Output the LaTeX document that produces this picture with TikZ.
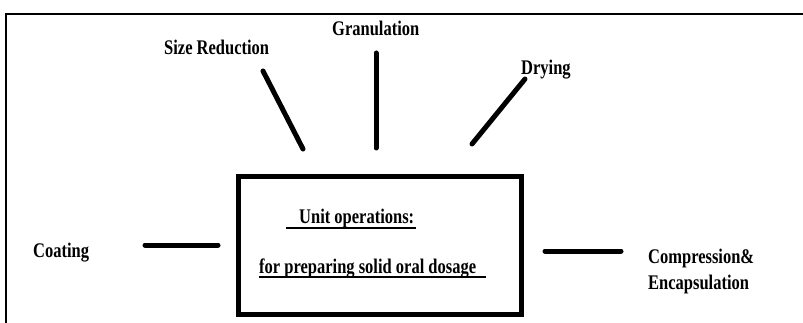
\documentclass[tikz,border=0pt]{standalone}
\usepackage{fontspec}
\setmainfont{Liberation Serif}
\newcommand\talltxt[1]{\scalebox{1}[1.26]{#1}}
\begin{document}
\begin{tikzpicture}[x=1pt,y=-1pt,
  lbl/.style={font=\fontsize{16.5}{19}\selectfont\bfseries, inner sep=0pt, anchor=base west},
  link/.style={line width=5pt, line cap=round},
  uline/.style={line width=1.5pt}]
\useasboundingbox (0,0) rectangle (803,323);
% outer frame
\draw[line width=2.5pt] (6,323) -- (6,14) -- (803,14);
% central box
\node[draw, line width=5pt, minimum width=283pt, minimum height=138pt, inner sep=0pt] (box) at (380,245.5) {};
\node[lbl] (unit) at (299,224) {\talltxt{Unit operations:}};
\node[lbl] (prep) at (259,273) {\talltxt{for preparing solid oral dosage}};
\draw[uline] (286,228) -- (416,228);
\draw[uline] (259,277) -- (486,277);
% labels
\node[lbl] (size) at (164,55) {\talltxt{Size Reduction}};
\node[lbl] (gran) at (332,36) {\talltxt{Granulation}};
\node[lbl] (dry) at (521,75) {\talltxt{Drying}};
\node[lbl] (coat) at (33,257) {\talltxt{Coating}};
\node[lbl] (comp) at (648,263) {\talltxt{Compression\&}};
\node[lbl] (enc) at (648,289) {\talltxt{Encapsulation}};
% connector end points
\coordinate (s1) at (263,71);  \coordinate (s2) at (303,149);
\coordinate (g1) at (376,53);  \coordinate (g2) at (376,148);
\coordinate (d1) at (525,79);  \coordinate (d2) at (472,144);
\coordinate (c1) at (145,245); \coordinate (c2) at (218,245);
\coordinate (p1) at (545,251); \coordinate (p2) at (621,251);
\draw[link] (s1) -- (s2);
\draw[link] (g1) -- (g2);
\draw[link] (d1) -- (d2);
\draw[link] (c1) -- (c2);
\draw[link] (p1) -- (p2);
\end{tikzpicture}
\end{document}
